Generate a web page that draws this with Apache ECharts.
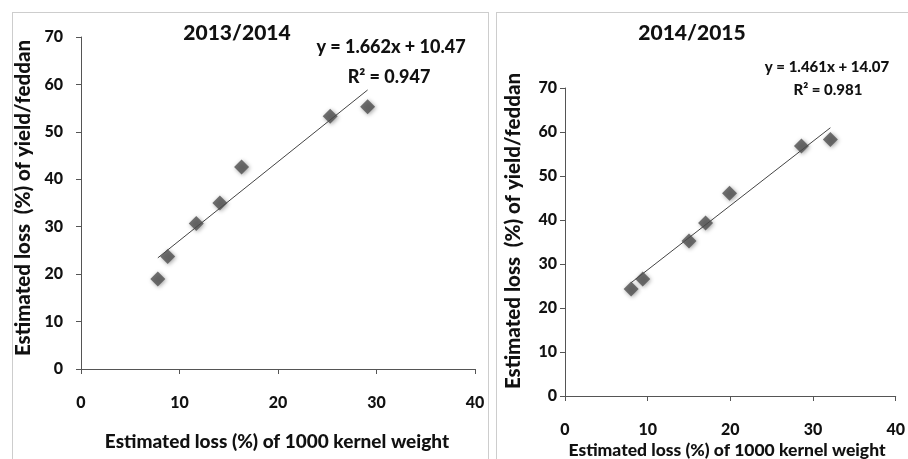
<!DOCTYPE html>
<html><head><meta charset="utf-8">
<script src="https://cdn.jsdelivr.net/npm/echarts@6/dist/echarts.min.js"></script>
<style>html,body{margin:0;padding:0;background:#fff}#c{width:908px;height:459px}</style>
</head><body><div id="c"></div>
<script>
// ---- data ----
const xTicks = [0, 10, 20, 30, 40];
const yTicks = [0, 10, 20, 30, 40, 50, 60, 70];
const titles = ['2013/2014', '2014/2015'];
const xName = 'Estimated loss (%) of 1000 kernel weight';
const yName = 'Estimated loss  (%) of yield/feddan';
const x1 = [7.8, 8.8, 11.7, 14.1, 16.3, 25.3, 29.1];
const y1 = [19.0, 23.7, 30.7, 35.0, 42.6, 53.3, 55.3];
const x2 = [8.0, 9.4, 15.0, 17.0, 19.9, 28.6, 32.1];
const y2 = [24.3, 26.6, 35.2, 39.3, 46.1, 56.8, 58.3];
const slope = [1.662, 1.461];
const intercept = [10.47, 14.07];
const eqText = ['y = 1.662x + 10.47', 'y = 1.461x + 14.07'];
const r2Text = ['R² = 0.947', 'R² = 0.981'];

const FONT = 'Lato';
const FW = 900;
const TXT = '#111';
function pts(xs, ys){ return xs.map((v,i)=>[v, ys[i]]); }
function trend(xs, k){
  const a = Math.min(...xs), b = Math.max(...xs);
  return [[a, slope[k]*a + intercept[k]], [b, slope[k]*b + intercept[k]]];
}
const axisCommon = {
  type: 'value', min: 0, interval: 10,
  splitLine: {show: false},
  axisLine: {show: true, lineStyle: {color: '#555', width: 1}},
  axisTick: {show: true, length: 5, lineStyle: {color: '#555'}},
};
const grids = [
  {left: 81, top: 37, width: 394, height: 332},
  {left: 565, top: 88, width: 331, height: 308}
];
const xAxes = grids.map((g,i)=>Object.assign({}, axisCommon, {
  gridIndex: i, max: xTicks[xTicks.length-1],
  axisLabel: {margin: 26, fontFamily: FONT, fontWeight: FW, fontSize: 16, color: TXT}
}));
const yAxes = grids.map((g,i)=>Object.assign({}, axisCommon, {
  gridIndex: i, max: yTicks[yTicks.length-1],
  axisLabel: {margin: i===0 ? 18 : 8, fontFamily: FONT, fontWeight: FW, fontSize: 16, color: TXT}
}));
const scatterStyle = {color: '#505050', shadowBlur: 4, shadowColor: 'rgba(0,0,0,0.45)', shadowOffsetX: 1, shadowOffsetY: 1};
const series = [];
[[x1,y1],[x2,y2]].forEach((d,i)=>{
  series.push({type:'line', xAxisIndex:i, yAxisIndex:i, data: trend(d[0], i), symbol:'none',
    lineStyle:{color:'#444', width:1}, z:1, silent:true});
  series.push({type:'scatter', xAxisIndex:i, yAxisIndex:i, data: pts(d[0], d[1]), symbol:'diamond',
    symbolSize: 15, itemStyle: scatterStyle, z:2});
});
const tstyle = (size, extra)=>Object.assign({fontFamily: FONT, fontWeight: FW, fontSize:size, fill: TXT, textAlign:'center', textVerticalAlign:'middle'}, extra||{});
const graphic = [
  {type:'rect', shape:{x:12.5, y:12.5, width:476, height:460}, style:{fill:'none', stroke:'#9a9a9a', lineWidth:1, lineDash:[1,1]}},
  {type:'rect', shape:{x:496.5, y:12.5, width:420, height:460}, style:{fill:'none', stroke:'#9a9a9a', lineWidth:1, lineDash:[1,1]}},
  {type:'text', x:237, y:33, style: tstyle(21, {text: titles[0]})},
  {type:'text', x:692, y:33, style: tstyle(21, {text: titles[1]})},
  {type:'text', x:391, y:47, style: tstyle(18, {text: eqText[0]})},
  {type:'text', x:389, y:77, style: tstyle(18, {text: r2Text[0]})},
  {type:'text', x:827, y:67, style: tstyle(15, {text: eqText[1]})},
  {type:'text', x:828, y:90, style: tstyle(15, {text: r2Text[1]})},
  {type:'text', x:277, y:442, style: tstyle(19, {text: xName})},
  {type:'text', x:727, y:450, style: tstyle(17.5, {text: xName})},
  {type:'text', x:23, y:198, rotation: Math.PI/2, style: tstyle(20.5, {text: yName})},
  {type:'text', x:513, y:231, rotation: Math.PI/2, style: tstyle(20.5, {text: yName})}
];
const chart = echarts.init(document.getElementById('c'), null, {renderer:'canvas'});
chart.setOption({animation:false, grid: grids, xAxis: xAxes, yAxis: yAxes, series, graphic});
</script></body></html>
